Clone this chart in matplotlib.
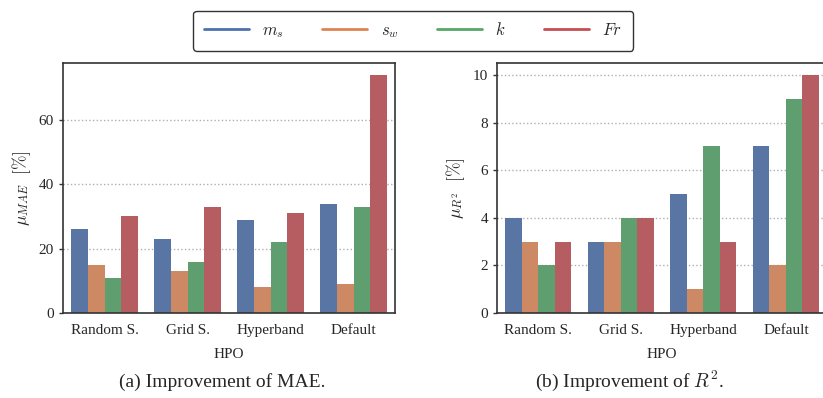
import numpy as np
import pandas as pd
import matplotlib
matplotlib.use("Agg")
import matplotlib.pyplot as plt
from matplotlib.lines import Line2D
import seaborn as sns

# HPO methods and parameters
hpo = ["Random S.", "Grid S.", "Hyperband", "Default"]
params = [r"$m_s$", r"$s_w$", r"$k$", r"$Fr$"]

# improvement of MAE [%], one list per parameter
mae_ms = [26, 23, 29, 34]
mae_sw = [15, 13, 8, 9]
mae_k = [11, 16, 22, 33]
mae_fr = [30, 33, 31, 74]

# improvement of R^2 [%]
r2_ms = [4, 3, 5, 7]
r2_sw = [3, 3, 1, 2]
r2_k = [2, 4, 7, 9]
r2_fr = [3, 4, 3, 10]


def long_table(series):
    rows = []
    for p, vals in zip(params, series):
        for h, v in zip(hpo, vals):
            rows.append({"HPO": h, "param": p, "value": v})
    return pd.DataFrame(rows)


sns.set_style("ticks")
plt.rcParams["font.family"] = ["Liberation Serif", "DejaVu Serif"]
plt.rcParams["mathtext.fontset"] = "cm"
plt.rcParams["font.size"] = 11

colors = sns.color_palette("deep", 4)

fig = plt.figure(figsize=(8.23, 3.98), dpi=100)
ax1 = fig.add_axes([0.0766, 0.2136, 0.4034, 0.628])
ax2 = fig.add_axes([0.604, 0.2136, 0.401, 0.628])

df_mae = long_table([mae_ms, mae_sw, mae_k, mae_fr])
df_r2 = long_table([r2_ms, r2_sw, r2_k, r2_fr])

for ax, df, ylab in [(ax1, df_mae, r"$\mu_{MAE}\ \ [\%]$"),
                     (ax2, df_r2, r"$\mu_{R^2}\ \ [\%]$")]:
    sns.barplot(data=df, x="HPO", y="value", hue="param", palette=colors,
                ax=ax, legend=False, linewidth=0)
    ax.set_xlabel("HPO", fontsize=11, labelpad=8)
    ax.set_ylabel(ylab, fontsize=12.5, labelpad=4)
    ax.grid(axis="y", linestyle=":", color="#b0b0b0", linewidth=1.0)
    ax.set_axisbelow(True)
    for s in ax.spines.values():
        s.set_visible(True)
        s.set_color("#333333")
        s.set_linewidth(1.2)
    ax.tick_params(axis="x", length=0, pad=8, labelsize=11)
    ax.tick_params(axis="y", length=3, width=1, labelsize=11, color="#333333")
    ax.margins(y=0.05)

ax1.set_yticks([0, 20, 40, 60])
ax2.set_yticks([0, 2, 4, 6, 8, 10])

handles = [Line2D([0], [0], color=c, lw=2) for c in colors]
fig.legend(handles, params, loc="center", bbox_to_anchor=(0.502, 0.9226),
           ncol=4, frameon=True, fancybox=True, edgecolor="black",
           handlelength=2.7, columnspacing=2.3, handletextpad=0.8,
           fontsize=12, borderpad=0.65)

fig.text(0.27, 0.028, "(a) Improvement of MAE.", ha="center", fontsize=14)
fig.text(0.765, 0.028, r"(b) Improvement of $R^2$.", ha="center", fontsize=14)

fig.savefig("out.png", dpi=100)
